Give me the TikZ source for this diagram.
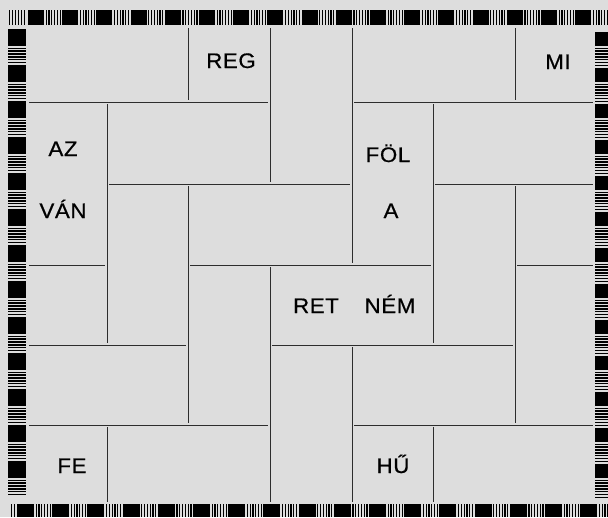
\documentclass[tikz,border=0pt]{standalone}
\usepackage{fontspec}
\setmainfont{Liberation Sans}[FakeStretch=1.06,LetterSpace=3,FakeBold=0.6]
\definecolor{bg}{RGB}{221,221,221}
\definecolor{ln}{RGB}{45,45,45}
\tikzset{
  gridline/.style={draw=ln,line width=1pt,shorten <=2pt,shorten >=2pt},
  lbl/.style={font=\fontsize{21}{21}\selectfont,anchor=base,inner sep=0pt,text=black},
}
\begin{document}
\begin{tikzpicture}[x=1pt,y=-1pt]
\fill[bg] (0,0) rectangle (608,517);
\useasboundingbox (0,0) rectangle (608,517);
\clip (0,0) rectangle (608,517);
% grid points
\foreach \c/\x in {0/27,1/107,2/188,3/270,4/352,5/433,6/515,7/595}{
  \foreach \r/\y in {0/26,1/102,2/184,3/265,4/345,5/425,6/504}{
    \coordinate (g\c\r) at (\x,\y);
  }
}
% horizontal segments
\foreach \r/\a/\b in {1/0/3,1/4/7,2/1/4,2/5/7,3/0/1,3/2/5,3/6/7,4/0/2,4/3/6,5/0/3,5/4/7}
  \draw[gridline] (g\a\r) -- (g\b\r);
% vertical segments
\foreach \c/\a/\b in {1/1/4,1/5/6,2/0/1,2/2/5,3/0/2,3/3/6,4/0/3,4/4/6,5/1/4,5/5/6,6/0/1,6/2/5}
  \draw[gridline] (g\c\a) -- (g\c\b);
% border: top band
\foreach \s in {0,...,5} \fill (9+3*\s,10) rectangle ++(1.3,15);
\foreach \k in {0,...,17}{
  \pgfmathsetmacro\xa{28+34.2*\k}
  \fill (\xa,10) rectangle ++(16,15);
  \foreach \s in {0,...,5} \fill (\xa+17.5+2.8*\s,10) rectangle ++(1.3,15);
}
% left band
\foreach \k in {0,...,12}{
  \pgfmathsetmacro\ya{29+36*\k}
  \fill (8,\ya) rectangle ++(18,17);
  \foreach \s in {0,...,5} \fill (8,\ya+18.5+2.9*\s) rectangle ++(18,1.3);
}
% right band
\foreach \k in {0,...,12}{
  \pgfmathsetmacro\ya{32+36*\k}
  \fill (595,\ya) rectangle ++(13,14);
  \foreach \s in {0,...,6} \fill (595,\ya+15.5+2.9*\s) rectangle ++(13,1.3);
}
% bottom band
\foreach \s in {0,...,1} \fill (11+3*\s,504) rectangle ++(1.3,13);
\foreach \k in {0,...,17}{
  \pgfmathsetmacro\xa{17+35.2*\k}
  \fill (\xa,504) rectangle ++(17,13);
  \foreach \s in {0,...,5} \fill (\xa+18.5+2.8*\s,504) rectangle ++(1.3,13);
}
% labels
\node[lbl] (reg) at (231,68) {REG};
\node[lbl] (mi) at (558,69) {MI};
\node[lbl] (az) at (63,156) {AZ};
\node[lbl] (fol) at (388,162) {FÖL};
\node[lbl] (van) at (63,218) {VÁN};
\node[lbl] (a) at (391,218) {A};
\node[lbl] (ret) at (316,313) {RET};
\node[lbl] (nem) at (390,313) {NÉM};
\node[lbl] (fe) at (72,473) {FE};
\node[lbl] (hu) at (393,473) {HŰ};
\end{tikzpicture}
\end{document}
